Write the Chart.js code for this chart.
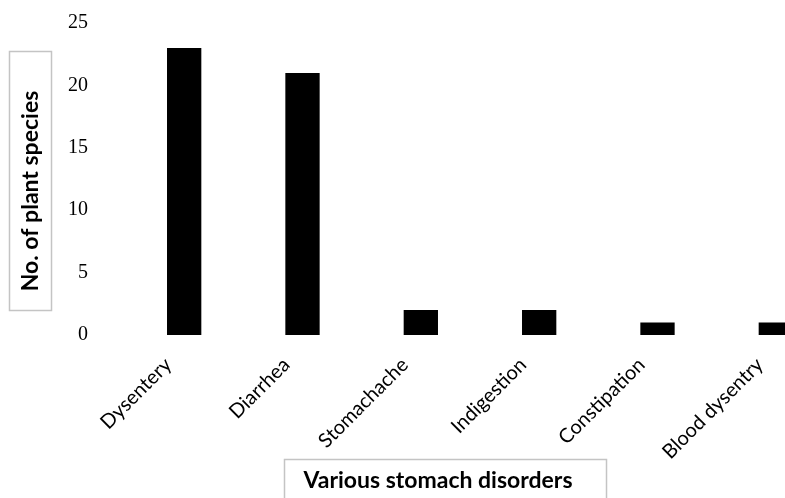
<!DOCTYPE html>
<html>
<head>
<meta charset="utf-8">
<script src="https://cdn.jsdelivr.net/npm/chart.js@4"></script>
<style>
  html, body { margin: 0; padding: 0; background: #fff; overflow: hidden; }
</style>
</head>
<body>
<canvas id="disorderChart" width="840" height="498"></canvas>
<script>
const categories = ["Dysentery", "Diarrhea", "Stomachache", "Indigestion", "Constipation", "Blood dysentry"];
const speciesCounts = [23, 21, 2, 2, 1, 1];
const yTicks = [0, 5, 10, 15, 20, 25];
const xTitle = "Various stomach disorders";
const yTitle = "No. of plant species";

// boxed axis titles, drawn by hand since Chart.js titles have no border
const boxedTitles = {
  id: "boxedTitles",
  afterDraw(chart) {
    const ctx = chart.ctx;
    ctx.save();
    ctx.strokeStyle = "#c4c4c4";
    ctx.lineWidth = 1.5;
    ctx.fillStyle = "#000";
    ctx.font = "bold 23px Lato";
    ctx.textAlign = "center";
    ctx.textBaseline = "middle";

    // y title
    ctx.strokeRect(9.5, 51.5, 42, 259);
    ctx.save();
    ctx.translate(31, 191);
    ctx.rotate(-Math.PI / 2);
    ctx.fillText(yTitle, 0, 0);
    ctx.restore();

    // x title
    ctx.strokeRect(284.5, 459.5, 322, 60);
    ctx.fillText(xTitle, 438, 481);
    ctx.restore();
  }
};

const ctx = document.getElementById("disorderChart").getContext("2d");
const disorderChart = new Chart(ctx, {
  type: "bar",
  data: {
    labels: categories,
    datasets: [
      {
        label: "No. of plant species",
        data: speciesCounts,
        backgroundColor: "#000",
        borderWidth: 0,
        categoryPercentage: 1,
        barPercentage: 0.29,
      },
    ],
  },
  options: {
    responsive: false,
    animation: false,
    layout: { padding: { top: 23, right: 5, left: 0, bottom: 0 } },
    plugins: {
      legend: { display: false },
      tooltip: { enabled: false },
    },
    scales: {
      x: {
        grid: { display: false, drawTicks: false },
        border: { display: false },
        ticks: {
          color: "#000",
          font: { family: "Lato", size: 20 },
          minRotation: 45,
          maxRotation: 45,
          padding: 18,
          labelOffset: -16,
        },
        afterFit(scale) { scale.height = 163; },
      },
      y: {
        min: 0,
        max: 25,
        grid: { display: false, drawTicks: false },
        border: { display: false },
        afterBuildTicks(scale) { scale.ticks = yTicks.map(v => ({ value: v })); },
        ticks: {
          color: "#000",
          font: { family: "Liberation Serif", size: 20 },
          padding: 37,
        },
        afterFit(scale) {
          scale.width = 125;
          scale.paddingTop = 0;
          scale.paddingBottom = 0;
        },
      },
    },
  },
  plugins: [boxedTitles],
});
</script>
</body>
</html>
